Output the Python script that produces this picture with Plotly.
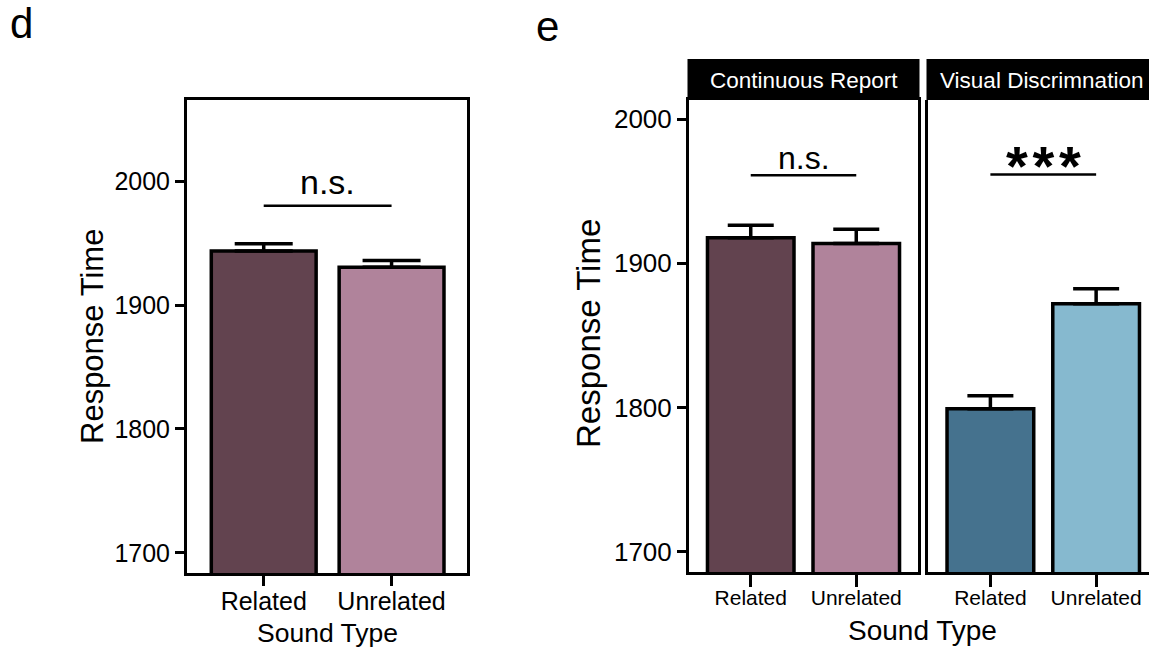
import plotly.graph_objects as go

# ---------------- data ----------------
categories = ["Related", "Unrelated"]

d_means = [1943.5, 1930.5]
d_err = [6.0, 5.5]

cr_means = [1917.8, 1913.7]
cr_err = [8.6, 9.9]

vd_means = [1799.2, 1872.0]
vd_err = [9.1, 10.4]

d_yticks = [1700, 1800, 1900, 2000]
e_yticks = [1700, 1800, 1900, 2000]

facet_titles = ["Continuous Report", "Visual Discrimnation"]
d_sig = "n.s."
cr_sig = "n.s."
vd_sig = "***"

# ---------------- style ----------------
W, H = 1149, 647
FONT = "Liberation Sans, Arial, Helvetica, sans-serif"
c_rel_cr = "#62434F"
c_unr_cr = "#B0839B"
c_rel_vd = "#45728E"
c_unr_vd = "#86B9CF"


def px_x(p):
    return p / W


def px_y(p):
    return (H - p) / H


fig = go.Figure()


def add_bars(xa, ya, means, errs, colors, capw):
    fig.add_trace(go.Bar(
        x=categories, y=means, xaxis=xa, yaxis=ya,
        width=0.82,
        marker=dict(color=colors, line=dict(color="black", width=3.5)),
        error_y=dict(type="data", symmetric=False, array=errs,
                     arrayminus=[0] * len(errs), color="black",
                     thickness=3.5, width=capw),
        showlegend=False, hoverinfo="skip",
    ))


add_bars("x", "y", d_means, d_err, [c_rel_cr, c_unr_cr], 29)
add_bars("x2", "y2", cr_means, cr_err, [c_rel_cr, c_unr_cr], 23)
add_bars("x3", "y3", vd_means, vd_err, [c_rel_vd, c_unr_vd], 23)

axis_common = dict(showline=True, linecolor="black", linewidth=3,
                   ticks="outside", tickcolor="black", tickwidth=3,
                   showgrid=False, zeroline=False, fixedrange=True)

# panel d
d_ybot, d_ytop = 573, 100
fig.update_layout(
    xaxis=dict(domain=[px_x(187), px_x(467)], range=[-0.6, 1.59],
               anchor="y", mirror=True, ticklen=10, ticklabelstandoff=-6,
               tickfont=dict(size=25, color="black", family=FONT),
               **axis_common),
    yaxis=dict(domain=[px_y(d_ybot), px_y(d_ytop)], range=[1683.8, 2065.4],
               anchor="x", mirror=True, ticklen=9, tickvals=d_yticks,
               tickfont=dict(size=25, color="black", family=FONT),
               **axis_common),
)

# panel e
e_ybot, e_ytop = 572, 100
e_range_y = [1686.1, 2013.2]
fig.update_layout(
    xaxis2=dict(domain=[px_x(689), px_x(918)], range=[-0.585, 1.585],
                anchor="y2", mirror=True, ticklen=12, ticklabelstandoff=-7,
                tickfont=dict(size=21, color="black", family=FONT),
                **axis_common),
    yaxis2=dict(domain=[px_y(e_ybot), px_y(e_ytop)], range=e_range_y,
                anchor="x2", mirror=True, ticklen=9, tickvals=e_yticks,
                tickfont=dict(size=26, color="black", family=FONT),
                **axis_common),
    xaxis3=dict(domain=[px_x(928), 1.0], range=[-0.59, 1.50],
                anchor="y3", ticklen=12, ticklabelstandoff=-7,
                tickfont=dict(size=21, color="black", family=FONT),
                **axis_common),
    yaxis3=dict(domain=[px_y(e_ybot), px_y(e_ytop)], range=e_range_y,
                anchor="x3", showline=True, linecolor="black", linewidth=3,
                showticklabels=False, ticks="", showgrid=False,
                zeroline=False, fixedrange=True),
)

shapes = []
annotations = []

# significance lines
shapes.append(dict(type="line", xref="x", yref="y", x0=0, x1=1, y0=1980, y1=1980,
                   line=dict(color="black", width=2.5)))
shapes.append(dict(type="line", xref="x2", yref="y2", x0=0, x1=1, y0=1961, y1=1961,
                   line=dict(color="black", width=2.5)))
shapes.append(dict(type="line", xref="x3", yref="y3", x0=0, x1=1, y0=1961.5, y1=1961.5,
                   line=dict(color="black", width=2.5)))
annotations.append(dict(xref="x", yref="y", x=0.5, y=1999, text=d_sig, showarrow=False,
                        font=dict(size=34, color="black", family=FONT), yanchor="middle"))
annotations.append(dict(xref="x2", yref="y2", x=0.5, y=1973, text=cr_sig, showarrow=False,
                        font=dict(size=32, color="black", family=FONT), yanchor="middle"))
annotations.append(dict(xref="x3", yref="y3", x=0.5, y=1967.7,
                        text="<b>" + "\u200a".join(vd_sig) + "</b>",
                        showarrow=False,
                        font=dict(size=56, color="black", family=FONT), yanchor="middle"))

# facet strips
strip_top, strip_bot = 59, 100
for (x0, x1), title in zip([(689, 918), (928, 1149)], facet_titles):
    shapes.append(dict(type="rect", xref="paper", yref="paper",
                       x0=px_x(x0 - 1.5), x1=px_x(x1 + 1.5) if x1 < W else 1.0,
                       y0=px_y(strip_bot), y1=px_y(strip_top),
                       fillcolor="black", line=dict(width=0), layer="above"))
    annotations.append(dict(xref="paper", yref="paper",
                            x=px_x((x0 + (x1 if x1 < W else 1155)) / 2),
                            y=px_y((strip_top + strip_bot) / 2 + 1),
                            text=title, showarrow=False, xanchor="center", yanchor="middle",
                            font=dict(size=22.5, color="white", family=FONT)))

# axis titles
annotations.append(dict(xref="paper", yref="paper", x=px_x(327), y=px_y(633),
                        text="Sound Type", showarrow=False, xanchor="center", yanchor="middle",
                        font=dict(size=26.5, color="black", family=FONT)))
annotations.append(dict(xref="paper", yref="paper", x=px_x(922), y=px_y(630),
                        text="Sound Type", showarrow=False, xanchor="center", yanchor="middle",
                        font=dict(size=28, color="black", family=FONT)))
annotations.append(dict(xref="paper", yref="paper", x=px_x(93), y=px_y(337),
                        text="Response Time", showarrow=False, textangle=-90,
                        xanchor="center", yanchor="middle",
                        font=dict(size=31, color="black", family=FONT)))
annotations.append(dict(xref="paper", yref="paper", x=px_x(589), y=px_y(334),
                        text="Response Time", showarrow=False, textangle=-90,
                        xanchor="center", yanchor="middle",
                        font=dict(size=33, color="black", family=FONT)))

# panel letters
annotations.append(dict(xref="paper", yref="paper", x=px_x(21), y=px_y(23),
                        text="d", showarrow=False, xanchor="center", yanchor="middle",
                        font=dict(size=42, color="black", family=FONT)))
annotations.append(dict(xref="paper", yref="paper", x=px_x(547), y=px_y(26),
                        text="e", showarrow=False, xanchor="center", yanchor="middle",
                        font=dict(size=42, color="black", family=FONT)))

fig.update_layout(
    width=W, height=H, autosize=False,
    margin=dict(l=0, r=0, t=0, b=0, pad=0),
    paper_bgcolor="white", plot_bgcolor="white",
    shapes=shapes, annotations=annotations,
    font=dict(family=FONT, color="black"),
    bargap=0.18,
)

fig.write_html(
    "out.html",
    config={"displayModeBar": False},
    post_script="document.body.style.margin='0px';document.body.style.overflow='hidden';",
)
